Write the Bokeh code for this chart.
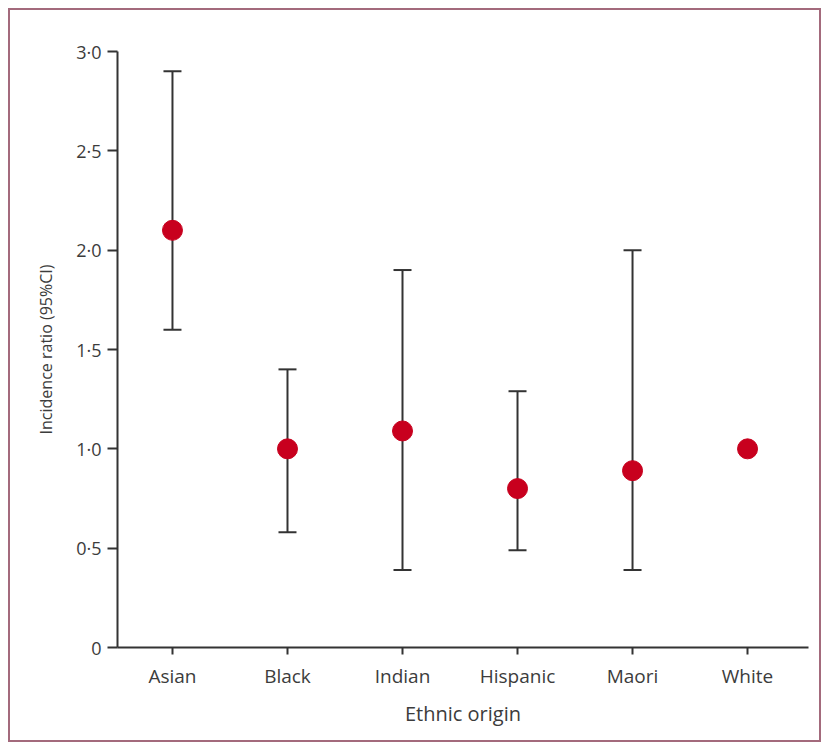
from bokeh.plotting import figure
from bokeh.models import ColumnDataSource, FixedTicker, Whisker, TeeHead, Range1d
from bokeh.embed import file_html
from bokeh.resources import INLINE

categories = ["Asian", "Black", "Indian", "Hispanic", "Maori", "White"]
ratio = [2.1, 1.0, 1.09, 0.8, 0.89, 1.0]
ci_lower = [1.6, 0.58, 0.39, 0.49, 0.39, None]
ci_upper = [2.9, 1.4, 1.9, 1.29, 2.0, None]
y_ticks = [0, 0.5, 1.0, 1.5, 2.0, 2.5, 3.0]
y_tick_labels = ["0", "0·5", "1·0", "1·5", "2·0", "2·5", "3·0"]

FONT = "Open Sans"
TEXT = "#3c3c3c"

xs = list(range(len(categories)))
p = figure(width=813, height=734, output_backend="svg", toolbar_location=None,
           x_range=Range1d(-0.478, 5.53), y_range=Range1d(0, 3.0),
           min_border_left=107, min_border_right=15, min_border_top=41,
           min_border_bottom=97)
p.styles = {"border": "2px solid #a36a7c", "margin-left": "8px", "margin-top": "8px"}
p.outline_line_color = None
p.grid.visible = False

wx = [x for x, lo in zip(xs, ci_lower) if lo is not None]
wlo = [lo for lo in ci_lower if lo is not None]
whi = [hi for hi in ci_upper if hi is not None]
wsrc = ColumnDataSource(dict(x=wx, lower=wlo, upper=whi))
w = Whisker(source=wsrc, base="x", lower="lower", upper="upper", dimension="height",
            line_color="#333333", line_width=2,
            upper_head=TeeHead(size=18, line_color="#333333", line_width=2),
            lower_head=TeeHead(size=18, line_color="#333333", line_width=2))
p.add_layout(w)

src = ColumnDataSource(dict(x=xs, y=ratio))
p.scatter("x", "y", source=src, size=20, fill_color="#c8001e", line_color="#c8001e")

p.xaxis.ticker = FixedTicker(ticks=xs)
p.xaxis.major_label_overrides = {i: c for i, c in zip(xs, categories)}
p.yaxis.ticker = FixedTicker(ticks=y_ticks)
p.yaxis.major_label_overrides = {t: l for t, l in zip(y_ticks, y_tick_labels)}
p.xaxis.minor_tick_line_color = None
p.yaxis.minor_tick_line_color = None

for ax in (p.xaxis[0], p.yaxis[0]):
    ax.axis_line_color = "#333333"
    ax.axis_line_width = 2
    ax.major_tick_line_color = "#333333"
    ax.major_tick_line_width = 2
    ax.major_tick_in = 0
    ax.major_label_text_font = FONT
    ax.major_label_text_font_size = "18px"
    ax.major_label_text_color = TEXT
    ax.axis_label_text_font = FONT
    ax.axis_label_text_font_size = "18px"
    ax.axis_label_text_font_style = "normal"
    ax.axis_label_text_color = TEXT

p.xaxis.major_label_text_font_size = "19px"
p.xaxis.axis_label_text_font_size = "20px"
p.yaxis.axis_label_text_font_size = "16px"
p.yaxis.major_tick_out = 10
p.xaxis.major_tick_out = 7
p.yaxis.major_label_standoff = 6
p.xaxis.major_label_standoff = 8
p.xaxis.axis_label = "Ethnic origin"
p.yaxis.axis_label = "Incidence ratio (95%CI)"
p.xaxis.axis_label_standoff = 8
p.yaxis.axis_label_standoff = 16

open("out.html", "w").write(file_html(p, INLINE))
